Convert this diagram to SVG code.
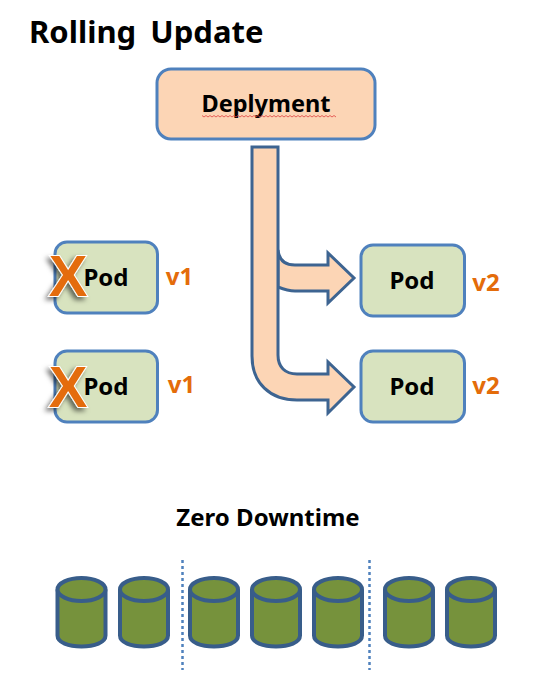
<svg xmlns="http://www.w3.org/2000/svg" width="555" height="700" viewBox="0 0 555 700">
<defs>
<filter id="sh" x="-40%" y="-40%" width="180%" height="180%"><feDropShadow dx="-3" dy="3" stdDeviation="2.500" flood-color="#000" flood-opacity="0.55"/></filter>
<g id="can">
<path class="can" d="M0 13V59C0 66 11 70 24 70S48 66 48 59V13"/>
<ellipse class="can" cx="24" cy="13" rx="24" ry="11.500"/>
</g>
</defs>
<style>
text{font-family:"Noto Sans","Liberation Sans",sans-serif;font-weight:700;fill:#000}
.pod{fill:#d8e3bf;stroke:#4f81bd;stroke-width:3}
.lbl{font-size:24px;text-anchor:middle}
.ver{font-size:24px;fill:#e46c0a;text-anchor:middle}
.arr{fill:#fcd5b5;stroke:#3d6491;stroke-width:3;stroke-linejoin:miter}
.can{fill:#76923c;stroke:#385d8a;stroke-width:4}
.x{font-size:58px;fill:#e46c0a;stroke:#fff;stroke-width:2;text-anchor:middle;filter:url(#sh);font-family:"Liberation Sans",sans-serif;paint-order:stroke}
.div{stroke:#4f81bd;stroke-width:2.500;stroke-dasharray:3 3;fill:none}
</style>
<text x="29" y="43" font-size="31" word-spacing="6">Rolling Update</text>
<g id="connectors">
<path class="arr" d="M278 250C279 260 285 265 295 265H328V253L354 278L328 303V291H295C288 291 283 289 278 287Z"/>
<path class="arr" d="M252 147H278V355C278 367 285 374 297 374H328V362L354 387L328 413V400H297C270 400 252 383 252 356Z"/>
</g>
<g id="deployment">
<rect x="157" y="69" width="218" height="70" rx="14" fill="#fcd5b5" stroke="#4f81bd" stroke-width="3"/>
<text x="266" y="112" font-size="23.500" text-anchor="middle">Deplyment</text>
<path d="M202 115.500l2 1.500 2-1.500 2 1.500 2-1.500 2 1.500 2-1.500 2 1.500 2-1.500 2 1.500 2-1.500 2 1.500 2-1.500 2 1.500 2-1.500 2 1.500 2-1.500 2 1.500 2-1.500 2 1.500 2-1.500 2 1.500 2-1.500 2 1.500 2-1.500 2 1.500 2-1.500 2 1.500 2-1.500 2 1.500 2-1.500 2 1.500 2-1.500 2 1.500 2-1.500 2 1.500 2-1.500 2 1.500 2-1.500 2 1.500 2-1.500 2 1.500 2-1.500 2 1.500 2-1.500 2 1.500 2-1.500 2 1.500 2-1.500 2 1.500 2-1.500 2 1.500 2-1.500 2 1.500 2-1.500 2 1.500 2-1.500 2 1.500 2-1.500 2 1.500 2-1.500 2 1.500 2-1.500 2 1.500 2-1.500 2 1.500 2-1.500 2 1.500" fill="none" stroke="#e04040" stroke-width="0.800"/>
</g>
<g id="pod-old-1">
<rect class="pod" x="55" y="242" width="102.500" height="71" rx="12"/>
<text class="lbl" x="106" y="286">Pod</text>
<text class="ver" x="179.500" y="285">v1</text>
<text class="x" x="68" y="296">X</text>
</g>
<g id="pod-old-2">
<rect class="pod" x="55" y="351" width="102.500" height="71" rx="12"/>
<text class="lbl" x="106" y="395">Pod</text>
<text class="ver" x="181.500" y="393">v1</text>
<text class="x" x="68" y="407">X</text>
</g>
<g id="pod-new-1">
<rect class="pod" x="361" y="245" width="103.500" height="71" rx="12"/>
<text class="lbl" x="412" y="289">Pod</text>
<text class="ver" x="486" y="291">v2</text>
</g>
<g id="pod-new-2">
<rect class="pod" x="361" y="351" width="103.500" height="71" rx="12"/>
<text class="lbl" x="412" y="395">Pod</text>
<text class="ver" x="486" y="394">v2</text>
</g>
<text x="268" y="526" font-size="24" text-anchor="middle">Zero Downtime</text>
<g id="cylinders">
<use href="#can" x="57.500" y="576.500"/>
<use href="#can" x="120" y="576.500"/>
<use href="#can" x="190" y="576.500"/>
<use href="#can" x="252" y="576.500"/>
<use href="#can" x="314" y="576.500"/>
<use href="#can" x="385" y="576.500"/>
<use href="#can" x="447" y="576.500"/>
</g>
<line class="div" x1="182.500" y1="560" x2="182.500" y2="670"/>
<line class="div" x1="369.500" y1="560" x2="369.500" y2="670"/>
</svg>
